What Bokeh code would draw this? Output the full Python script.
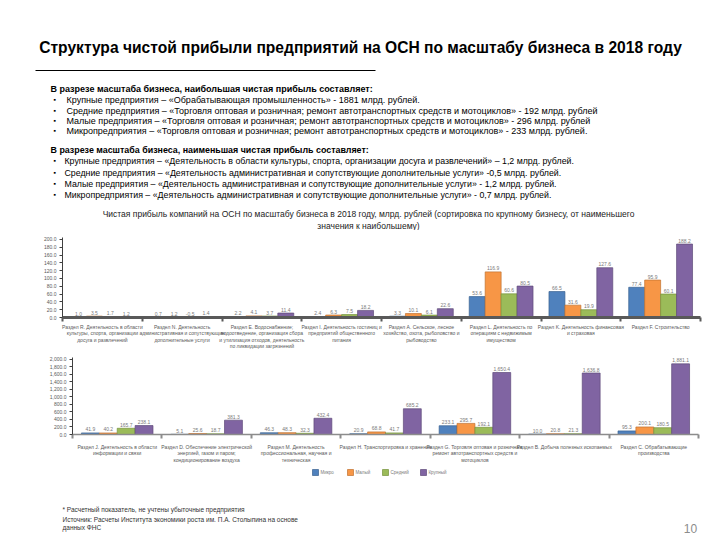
from bokeh.plotting import figure
from bokeh.models import Range1d, FixedTicker, ColumnDataSource, NumeralTickFormatter
from bokeh.core.properties import value
from bokeh.embed import file_html
from bokeh.resources import INLINE

FONT = "Liberation Sans"

# ---------------- texts ----------------
title = "Структура чистой прибыли предприятий на ОСН по масштабу бизнеса в 2018 году"
max_heading = "В разрезе масштаба бизнеса, наибольшая чистая прибыль составляет:"
max_items = [
    "Крупные предприятия – «Обрабатывающая промышленность» - 1881 млрд. рублей.",
    "Средние предприятия –  «Торговля оптовая и розничная; ремонт автотранспортных средств и мотоциклов» - 192 млрд. рублей",
    "Малые предприятия – «Торговля оптовая и розничная; ремонт автотранспортных средств и мотоциклов» - 296 млрд. рублей",
    "Микропредприятия – «Торговля оптовая и розничная; ремонт автотранспортных средств и мотоциклов» - 233 млрд. рублей.",
]
min_heading = "В разрезе масштаба бизнеса, наименьшая чистая прибыль составляет:"
min_items = [
    "Крупные предприятия – «Деятельность в области культуры, спорта, организации досуга и развлечений» – 1,2 млрд. рублей.",
    "Средние предприятия – «Деятельность административная и сопутствующие дополнительные услуги» -0,5 млрд. рублей.",
    "Малые предприятия – «Деятельность административная и сопутствующие дополнительные услуги» - 1,2 млрд. рублей.",
    "Микропредприятия – «Деятельность административная и сопутствующие дополнительные услуги» - 0,7 млрд. рублей.",
]
chart_title = [
    "Чистая прибыль компаний на ОСН по масштабу бизнеса в 2018 году, млрд. рублей (сортировка по крупному бизнесу, от наименьшего",
    "значения к наибольшему)",
]
footer_lines = [
    "* Расчетный показатель, не учтены убыточные предприятия",
    "Источник: Расчеты Института экономики роста им. П.А. Столыпина на основе",
    "данных ФНС",
]
page_number = "10"

# ---------------- data ----------------
series_names = ["Микро", "Малый", "Средний", "Крупный"]
colors = ["#4F81BD", "#F79646", "#9BBB59", "#8064A2"]
edges = ["#3A6190", "#C0712F", "#76923C", "#5F4A7A"]

top_categories = [
    "Раздел R. Деятельность в области\nкультуры, спорта, организации\nдосуга и развлечений",
    "Раздел N. Деятельность\nадминистративная и сопутствующие\nдополнительные услуги",
    "Раздел E. Водоснабжение;\nводоотведение, организация сбора\nи утилизация отходов, деятельность\nпо ликвидации загрязнений",
    "Раздел I. Деятельность гостиниц и\nпредприятий общественного\nпитания",
    "Раздел A. Сельское, лесное\nхозяйство, охота, рыболовство и\nрыбоводство",
    "Раздел L. Деятельность по\nоперациям с недвижимым\nимуществом",
    "Раздел K. Деятельность финансовая\nи страховая",
    "Раздел F. Строительство",
]
top_micro = [1.0, 0.7, 2.2, 2.4, 3.3, 53.6, 66.5, 77.4]
top_small = [3.5, 1.2, 4.1, 6.3, 10.1, 116.9, 31.6, 95.9]
top_medium = [1.7, -0.5, 3.7, 7.5, 6.1, 60.6, 19.9, 60.1]
top_large = [1.2, 1.4, 11.4, 18.2, 22.6, 80.5, 127.6, 188.2]
top_ticks = [0, 20, 40, 60, 80, 100, 120, 140, 160, 180, 200]

bottom_categories = [
    "Раздел J. Деятельность в области\nинформации и связи",
    "Раздел D. Обеспечение электрической\nэнергией, газом и паром;\nкондиционирование воздуха",
    "Раздел M. Деятельность\nпрофессиональная, научная и\nтехническая",
    "Раздел H. Транспортировка и хранение",
    "Раздел G. Торговля оптовая и розничная;\nремонт автотранспортных средств и\nмотоциклов",
    "Раздел B. Добыча полезных ископаемых",
    "Раздел C. Обрабатывающие\nпроизводства",
]
bottom_micro = [41.9, 5.1, 46.3, 20.9, 233.1, 10.0, 95.3]
bottom_small = [40.2, 25.6, 48.3, 68.8, 295.7, 20.8, 200.1]
bottom_medium = [165.7, 18.7, 32.3, 41.7, 192.1, 21.3, 180.5]
bottom_large = [238.1, 381.3, 432.4, 685.2, 1650.4, 1636.8, 1881.1]
bottom_ticks = [0, 200, 400, 600, 800, 1000, 1200, 1400, 1600, 1800, 2000]

W = 720


def blank(height):
    p = figure(width=W, height=height, x_range=Range1d(0, W), y_range=Range1d(height, 0),
               output_backend="svg", toolbar_location=None, min_border=0,
               x_axis_location=None, y_axis_location=None)
    p.grid.visible = False
    p.outline_line_color = None
    return p


def put(p, x, y, txt, size, bold=False, align="left", color="#000000"):
    p.text(x=[x], y=[y], text=[txt], text_font=value(FONT), text_font_size=size,
           text_font_style="bold" if bold else "normal", text_align=align,
           text_baseline="middle", text_color=color)


# ---------------- header (page y 0-230) ----------------
H_HEAD = 230
head = blank(H_HEAD)
put(head, 360, 47, title, "15.6px", bold=True, align="center")
head.segment(x0=[35], y0=[70], x1=[375], y1=[70], line_color="#000000", line_width=1)

put(head, 50, 88, max_heading, "9px", bold=True)
for i, t in enumerate([99, 110, 120, 130]):
    put(head, 53, t, "▪", "7px")
    put(head, 66, t, max_items[i], "9px")

put(head, 50, 149, min_heading, "8.9px", bold=True)
for i, t in enumerate([160, 172, 183, 194]):
    put(head, 53, t, "▪", "7px")
    put(head, 64, t, min_items[i], "8.8px")

put(head, 368, 213, chart_title[0], "8.5px", align="center", color="#222222")
put(head, 368, 225, chart_title[1], "8.5px", align="center", color="#222222")


# ---------------- charts ----------------
def make_chart(cats, data, y_end, ticks, fmt, yfmt, height, top, bottom, left, right,
               axis_color, axis_width, standoff):
    n = len(cats)
    p = figure(width=W, height=height, x_range=Range1d(0, n), y_range=Range1d(0, y_end),
               output_backend="svg", toolbar_location=None,
               min_border_top=top, min_border_bottom=bottom,
               min_border_left=left, min_border_right=right)
    p.outline_line_color = None
    p.grid.visible = False
    offs = [-0.3, -0.1, 0.1, 0.3]
    for k, vals in enumerate(data):
        xs = [i + 0.5 + offs[k] for i in range(n)]
        src = ColumnDataSource(dict(x=xs, top=vals, ly=[max(v, 0) for v in vals],
                                    lab=[fmt.format(v) for v in vals]))
        p.vbar(x="x", top="top", width=0.2, source=src, fill_color=colors[k],
               line_color=edges[k], line_width=0.7)
        p.text(x="x", y="ly", text="lab", source=src, text_align="center",
               text_baseline="bottom", y_offset=-1.5, text_font=value(FONT),
               text_font_size="5px", text_color="#7a7a7a")

    xa = p.xaxis[0]
    xa.ticker = FixedTicker(ticks=[i + 0.5 for i in range(n)], minor_ticks=list(range(n + 1)))
    xa.major_label_overrides = {i + 0.5: c for i, c in enumerate(cats)}
    xa.major_tick_line_color = None
    xa.major_tick_out = 0
    xa.major_tick_in = 0
    xa.minor_tick_in = 0
    xa.minor_tick_out = 4
    xa.minor_tick_line_color = axis_color
    xa.minor_tick_line_width = 2
    xa.axis_line_color = axis_color
    xa.axis_line_width = axis_width
    xa.major_label_text_font = FONT
    xa.major_label_text_font_size = "5px"
    xa.major_label_text_line_height = 1.1
    xa.major_label_text_color = "#595959"
    xa.major_label_standoff = standoff

    ya = p.yaxis[0]
    ya.ticker = FixedTicker(ticks=ticks, minor_ticks=[])
    ya.formatter = NumeralTickFormatter(format=yfmt)
    ya.axis_line_color = "#404040"
    ya.axis_line_width = 1
    ya.major_tick_line_color = "#404040"
    ya.major_tick_in = 0
    ya.major_tick_out = 3
    ya.minor_tick_line_color = None
    ya.major_label_text_font = FONT
    ya.major_label_text_font_size = "5px"
    ya.major_label_text_color = "#595959"
    ya.major_label_standoff = 3
    return p


# top chart: page y 230-352, frame 237-319, x 62-700
top_chart = make_chart(top_categories, [top_micro, top_small, top_medium, top_large],
                       205, top_ticks, "{:.1f}", "0.0", 122, 7, 33, 62, 20,
                       "#595959", 3, 2)
# bottom chart: page y 352-466, frame 357-434, x 72-698
bottom_chart = make_chart(bottom_categories, [bottom_micro, bottom_small, bottom_medium, bottom_large],
                          2050, bottom_ticks, "{:,.1f}", "0,0.0", 114, 5, 32, 72, 22,
                          "#8c8c8c", 1.5, 5)

# ---------------- footer (page y 466-538) ----------------
H_FOOT = 72
foot = blank(H_FOOT)
leg_x = [312, 347, 382, 420]
for k in range(4):
    foot.rect(x=[leg_x[k] + 3], y=[6], width=6, height=6, fill_color=colors[k],
              line_color=edges[k], line_width=0.7)
    put(foot, leg_x[k] + 8, 6, series_names[k], "4.5px", color="#7a7a7a")

for i, t in enumerate(footer_lines):
    put(foot, 62, [43, 53, 61][i], t, "6.5px", color="#333333")
put(foot, 690, 62, page_number, "12px", align="center", color="#8c8c8c")

open("out.html", "w").write(file_html([head, top_chart, bottom_chart, foot], INLINE))
